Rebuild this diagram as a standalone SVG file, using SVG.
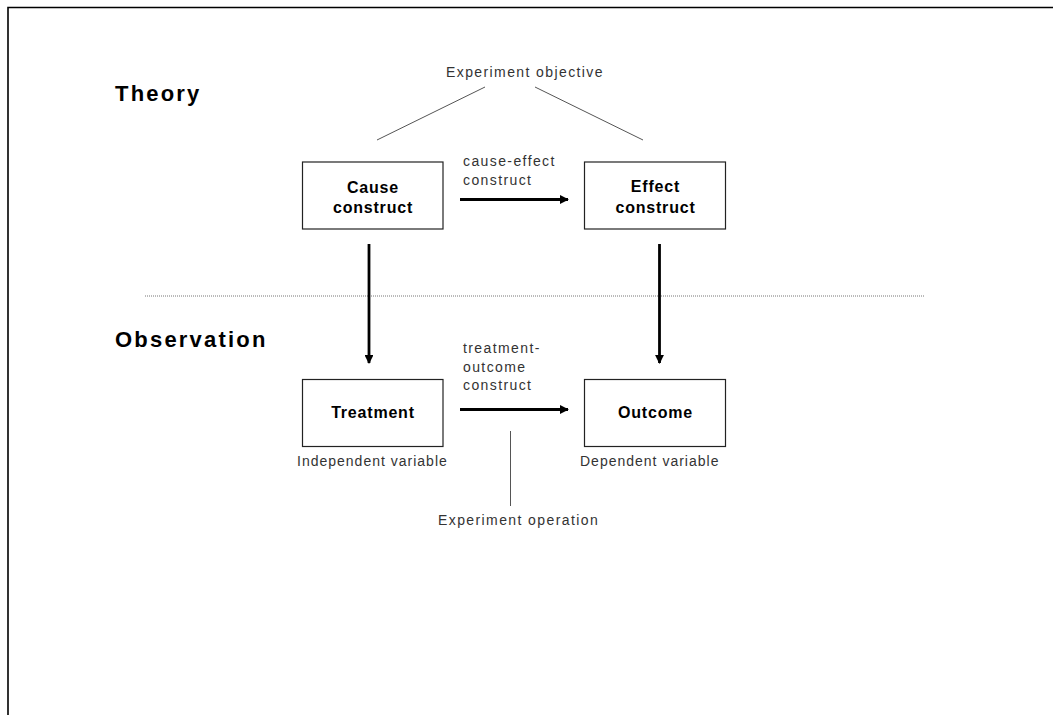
<svg xmlns="http://www.w3.org/2000/svg" width="1053" height="715" viewBox="0 0 1053 715">
<defs>
<marker id="ah" viewBox="0 0 10 10" refX="9" refY="5" markerWidth="3.4" markerHeight="3.2" orient="auto" markerUnits="strokeWidth">
<path d="M0,0 L10,5 L0,10 z" fill="#000"/>
</marker>
<style>
.box{fill:#fff;stroke:#222;stroke-width:1.2}
.nt{font-family:"Liberation Sans",Arial,sans-serif;font-size:16px;font-weight:bold;letter-spacing:0.8px;fill:#000;text-anchor:middle}
.hd{font-family:"Liberation Sans",Arial,sans-serif;font-size:22px;font-weight:bold;letter-spacing:2.2px;fill:#000}
.sm{font-family:"Liberation Sans",Arial,sans-serif;font-size:14px;letter-spacing:1.4px;fill:#333}
.ar{stroke:#000;stroke-width:2.8;fill:none;marker-end:url(#ah)}
.thin{stroke:#555;stroke-width:1;fill:none}
</style>
</defs>
<rect x="0" y="0" width="1053" height="715" fill="#fff"/>
<path d="M8,715 L8,7.5 L1053,7.5" fill="none" stroke="#000" stroke-width="1.6"/>
<text class="hd" x="115" y="101">Theory</text>
<text class="hd" x="115" y="347">Observation</text>
<line x1="145" y1="296" x2="924" y2="296" stroke="#777" stroke-width="1" stroke-dasharray="1,1"/>
<g id="connectors">
<line class="thin" x1="377" y1="140" x2="485" y2="87"/>
<line class="thin" x1="535" y1="87" x2="643" y2="140"/>
<line class="ar" x1="460" y1="199.5" x2="568" y2="199.5"/>
<line class="ar" x1="460" y1="409.5" x2="568" y2="409.5"/>
<line class="ar" x1="369" y1="244" x2="369" y2="363"/>
<line class="ar" x1="659.5" y1="244" x2="659.5" y2="363"/>
<line class="thin" x1="510.5" y1="431" x2="510.5" y2="506"/>
</g>
<g id="objective"><text class="sm" x="446" y="77">Experiment objective</text></g>
<g id="ce-label"><text class="sm" x="463" y="166">cause-effect</text><text class="sm" x="463" y="185">construct</text></g>
<g id="to-label"><text class="sm" x="463" y="353">treatment-</text><text class="sm" x="463" y="372">outcome</text><text class="sm" x="463" y="390">construct</text></g>
<g id="cause"><rect class="box" x="302.5" y="162" width="140.5" height="67"/><text class="nt" x="373" y="193">Cause</text><text class="nt" x="373" y="213">construct</text></g>
<g id="effect"><rect class="box" x="584.5" y="162" width="141" height="67"/><text class="nt" x="655.5" y="192">Effect</text><text class="nt" x="655.5" y="213">construct</text></g>
<g id="treatment"><rect class="box" x="302.5" y="379.5" width="140.5" height="67"/><text class="nt" x="373" y="418">Treatment</text><text class="sm" x="297" y="466" style="letter-spacing:1px">Independent variable</text></g>
<g id="outcome"><rect class="box" x="584.5" y="379.5" width="141" height="67"/><text class="nt" x="655.5" y="418">Outcome</text><text class="sm" x="580" y="466" style="letter-spacing:1px">Dependent variable</text></g>
<g id="operation"><text class="sm" x="438" y="525">Experiment operation</text></g>
</svg>
